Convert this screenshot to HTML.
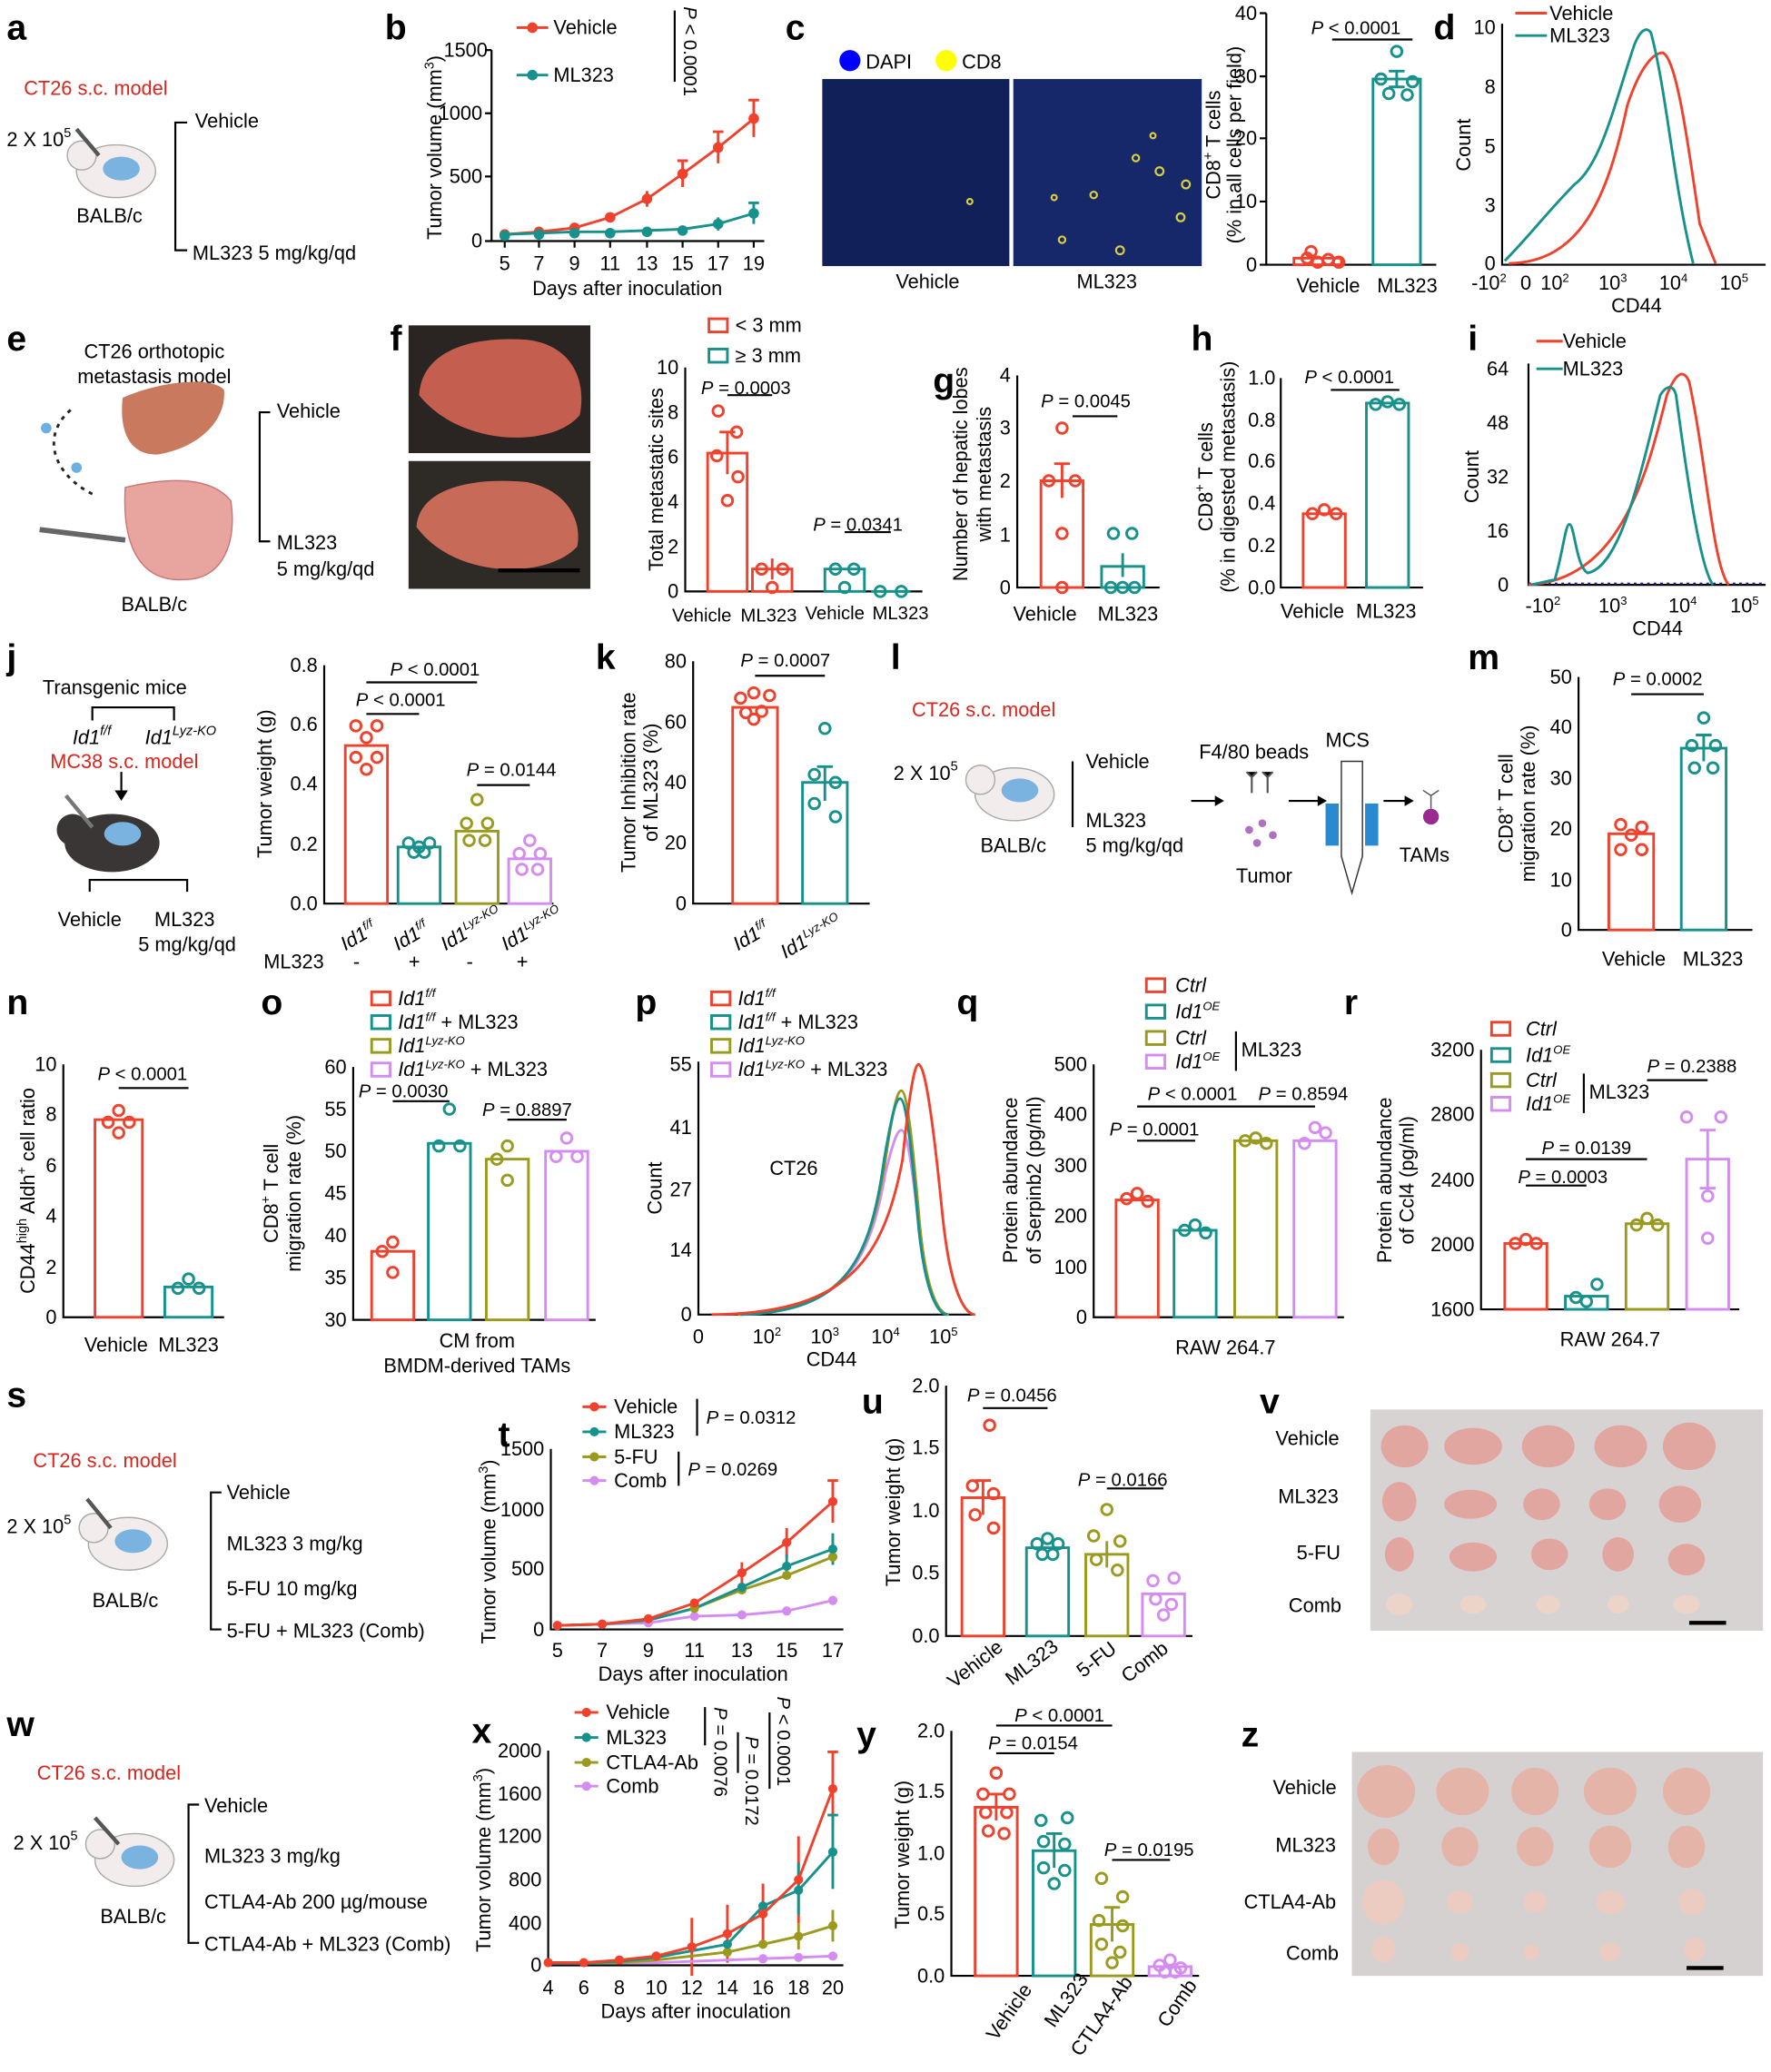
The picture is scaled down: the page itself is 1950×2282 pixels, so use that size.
<!DOCTYPE html>
<html><head><meta charset="utf-8"><style>
html,body{margin:0;padding:0;background:#fff;}
svg{display:block}
text{font-family:"Liberation Sans",Arial,sans-serif;font-size:15px;fill:#000}
.L{font-size:27px;font-weight:bold}
.s{font-size:14px}
.rd{fill:#d7261e}
.ax{stroke:#000;stroke-width:1.5;fill:none}
.R{stroke:#f0412d;stroke-width:2;fill:none}
.T{stroke:#16918c;stroke-width:2;fill:none}
.O{stroke:#9a9a1e;stroke-width:2;fill:none}
.V{stroke:#d48cf0;stroke-width:2;fill:none}
.e{text-anchor:end}.m{text-anchor:middle}
</style></head><body>
<svg width="1950" height="2282" viewBox="0 0 1344 1573" xmlns="http://www.w3.org/2000/svg">
<rect width="1344" height="1573" fill="#fff"/>
<!-- panel letters -->
<g class="L">
<text x="5" y="30" class="L">a</text><text x="292" y="30" class="L">b</text><text x="596" y="30" class="L">c</text><text x="1088" y="30" class="L">d</text>
<text x="5" y="266" class="L">e</text><text x="296" y="266" class="L">f</text><text x="708" y="298" class="L">g</text><text x="904" y="266" class="L">h</text><text x="1114" y="266" class="L">i</text>
<text x="5" y="508" class="L">j</text><text x="452" y="508" class="L">k</text><text x="676" y="508" class="L">l</text><text x="1114" y="508" class="L">m</text>
<text x="5" y="770" class="L">n</text><text x="198" y="770" class="L">o</text><text x="482" y="770" class="L">p</text><text x="726" y="770" class="L">q</text><text x="1020" y="770" class="L">r</text>
<text x="5" y="1068" class="L">s</text><text x="378" y="1098" class="L">t</text><text x="654" y="1073" class="L">u</text><text x="956" y="1073" class="L">v</text>
<text x="5" y="1318" class="L">w</text><text x="358" y="1323" class="L">x</text><text x="650" y="1326" class="L">y</text><text x="942" y="1326" class="L">z</text>
</g>

<!-- ===== a ===== -->
<text x="18" y="72" class="rd">CT26 s.c. model</text>
<text x="5" y="111">2 X 10<tspan font-size="10" dy="-7">5</tspan></text>
<g><ellipse cx="88" cy="130" rx="30" ry="20" fill="#f3ecec" stroke="#aaa"/><circle cx="62" cy="118" r="11" fill="#f3ecec" stroke="#aaa"/><ellipse cx="92" cy="128" rx="14" ry="9" fill="#7ab3e0"/><line x1="58" y1="98" x2="75" y2="118" stroke="#555" stroke-width="3"/></g>
<text x="58" y="169">BALB/c</text>
<path class="ax" d="M142,93H133V190H142"/>
<text x="148" y="97">Vehicle</text><text x="146" y="197">ML323 5 mg/kg/qd</text>

<!-- ===== b ===== -->
<path class="ax" d="M373,38V183H580"/>
<g class="ax"><path d="M368,183H373M368,134H373M368,86H373M368,38H373M383,183v5M409,183v5M436,183v5M463,183v5M491,183v5M518,183v5M545,183v5M572,183v5"/></g>
<g class="e"><text x="366" y="188">0</text><text x="366" y="139">500</text><text x="366" y="91">1000</text><text x="370" y="43">1500</text></g>
<g class="m"><text x="383" y="205">5</text><text x="409" y="205">7</text><text x="436" y="205">9</text><text x="463" y="205">11</text><text x="491" y="205">13</text><text x="518" y="205">15</text><text x="545" y="205">17</text><text x="572" y="205">19</text>
<text x="476" y="224">Days after inoculation</text></g>
<text transform="translate(335,112) rotate(-90)" class="m">Tumor volume (mm<tspan font-size="10" dy="-6">3</tspan><tspan dy="6">)</tspan></text>
<polyline class="R" points="383,178 409,176 436,173 463,165 491,151 518,132 545,112 572,90"/>
<polyline class="T" points="383,178 409,177 436,176 463,176 491,175 518,174 545,170 572,162"/>
<path class="R" d="M491,145v12M518,122v20M545,100v24M572,76v28M568,76h8M541,100h8M514,122h8"/>
<path class="T" d="M545,165v10M572,154v16M568,154h8"/>
<g fill="#f0412d"><circle cx="383" cy="178" r="4"/><circle cx="409" cy="176" r="4"/><circle cx="436" cy="173" r="4"/><circle cx="463" cy="165" r="4"/><circle cx="491" cy="151" r="4"/><circle cx="518" cy="132" r="4"/><circle cx="545" cy="112" r="4"/><circle cx="572" cy="90" r="4"/></g>
<g fill="#16918c"><circle cx="383" cy="179" r="4"/><circle cx="409" cy="178" r="4"/><circle cx="436" cy="177" r="4"/><circle cx="463" cy="177" r="4"/><circle cx="491" cy="176" r="4"/><circle cx="518" cy="175" r="4"/><circle cx="545" cy="170" r="4"/><circle cx="572" cy="162" r="4"/></g>
<path class="R" d="M392,21h24"/><circle cx="404" cy="21" r="4" fill="#f0412d"/><text x="420" y="26">Vehicle</text>
<path class="T" d="M392,57h24"/><circle cx="404" cy="57" r="4" fill="#16918c"/><text x="420" y="62">ML323</text>
<path class="ax" d="M512,8V62"/>
<text transform="translate(519,5) rotate(90)" class="s"><tspan font-style="italic">P</tspan> &lt; 0.0001</text>

<!-- ===== c ===== -->
<circle cx="645" cy="46" r="8" fill="#0000ff"/><text x="657" y="52">DAPI</text>
<circle cx="718" cy="46" r="8" fill="#ffff00"/><text x="730" y="52">CD8</text>
<rect x="624" y="60" width="142" height="142" fill="#12205a"/>
<rect x="769" y="60" width="143" height="142" fill="#16286a"/>
<g fill="none" stroke="#d8d040" stroke-width="1.5"><circle cx="862" cy="120" r="2.5"/><circle cx="880" cy="130" r="3"/><circle cx="900" cy="140" r="3"/><circle cx="850" cy="190" r="3"/><circle cx="830" cy="148" r="2.5"/><circle cx="896" cy="165" r="3"/><circle cx="800" cy="150" r="2"/><circle cx="875" cy="103" r="2"/><circle cx="806" cy="182" r="2.5"/><circle cx="736" cy="153" r="2"/></g>
<text x="704" y="219" class="m">Vehicle</text><text x="840" y="219" class="m">ML323</text>
<path class="ax" d="M961,10V201H1090"/>
<g class="ax"><path d="M956,201h5M956,153h5M956,105h5M956,58h5M956,10h5"/></g>
<g class="e"><text x="954" y="206">0</text><text x="954" y="158">10</text><text x="954" y="110">20</text><text x="954" y="63">30</text><text x="954" y="15">40</text></g>
<text transform="translate(926,110) rotate(-90)" class="m">CD8<tspan font-size="10" dy="-6">+</tspan><tspan dy="6"> T cells</tspan></text>
<text transform="translate(942,110) rotate(-90)" class="m">(% in all cells per field)</text>
<rect x="982" y="196" width="36" height="5" class="R"/><rect x="1042" y="60" width="36" height="141" class="T"/>
<path class="T" d="M1060,54v12M1054,54h12M1054,66h12"/>
<g class="R"><circle cx="992" cy="196" r="4"/><circle cx="1000" cy="199" r="4"/><circle cx="1008" cy="197" r="4"/><circle cx="1016" cy="199" r="4"/><circle cx="995" cy="191" r="4"/></g>
<g class="T"><circle cx="1060" cy="39" r="4"/><circle cx="1048" cy="60" r="4"/><circle cx="1072" cy="62" r="4"/><circle cx="1054" cy="71" r="4"/><circle cx="1068" cy="72" r="4"/></g>
<path class="ax" d="M1011,30H1072"/><text x="995" y="26" class="s"><tspan font-style="italic">P</tspan> &lt; 0.0001</text>
<text x="1008" y="222" class="m">Vehicle</text><text x="1068" y="222" class="m">ML323</text>

<!-- ===== d ===== -->
<path class="ax" d="M1140,18V201H1340"/>
<g class="e"><text x="1135" y="205">0</text><text x="1135" y="161">3</text><text x="1135" y="116">5</text><text x="1135" y="71">8</text><text x="1135" y="26">10</text></g>
<text transform="translate(1116,110) rotate(-90)" class="m">Count</text>
<g class="m"><text x="1130" y="220">-10<tspan font-size="9" dy="-6">2</tspan></text><text x="1158" y="220">0</text><text x="1180" y="220">10<tspan font-size="9" dy="-6">2</tspan></text><text x="1224" y="220">10<tspan font-size="9" dy="-6">3</tspan></text><text x="1270" y="220">10<tspan font-size="9" dy="-6">4</tspan></text><text x="1316" y="220">10<tspan font-size="9" dy="-6">5</tspan></text><text x="1242" y="237">CD44</text></g>
<path class="R" d="M1145,200C1200,199 1220,150 1235,80C1245,50 1255,40 1262,40C1272,45 1280,100 1290,170L1302,200"/>
<path class="T" d="M1142,198C1160,180 1175,160 1195,140C1215,125 1225,80 1240,35C1245,22 1250,20 1253,25C1265,70 1270,140 1285,200"/>
<path class="R" d="M1150,10h24"/><text x="1176" y="15">Vehicle</text><path class="T" d="M1150,27h24"/><text x="1176" y="32">ML323</text>

<!-- ===== e ===== -->
<text x="117" y="272" class="m">CT26 orthotopic</text><text x="117" y="291" class="m">metastasis model</text>
<path d="M93,302C120,290 160,285 170,296C172,320 150,340 120,345C100,346 90,330 93,302Z" fill="#c97a5e"/>
<circle cx="35" cy="325" r="4" fill="#6bb0e0"/><circle cx="58" cy="355" r="4" fill="#6bb0e0"/>
<path d="M70,375C40,360 30,330 55,310" fill="none" stroke="#222" stroke-width="2" stroke-dasharray="3,4"/>
<path d="M95,370C130,362 160,362 175,380C180,410 170,440 140,440C110,442 92,420 95,370Z" fill="#e8a5a0" stroke="#c77"/>
<line x1="30" y1="402" x2="95" y2="410" stroke="#666" stroke-width="4"/>
<text x="117" y="464" class="m">BALB/c</text>
<path class="ax" d="M205,313H197V411H205"/>
<text x="210" y="317">Vehicle</text><text x="210" y="417">ML323</text><text x="210" y="437">5 mg/kg/qd</text>

<!-- ===== f ===== -->
<rect x="310" y="247" width="138" height="97" fill="#2a2422"/>
<path d="M318,300C320,265 360,255 400,258C435,262 445,290 440,315C420,340 350,340 318,300Z" fill="#c45f4f"/>
<rect x="310" y="350" width="138" height="97" fill="#2e2a26"/>
<path d="M316,400C318,370 360,362 400,366C430,372 442,395 438,415C415,440 345,440 316,400Z" fill="#c86a58"/>
<line x1="378" y1="433" x2="440" y2="433" stroke="#000" stroke-width="3"/>
<rect x="538" y="242" width="14" height="10" class="R"/><text x="558" y="252">&lt; 3 mm</text>
<rect x="538" y="265" width="14" height="10" class="T"/><text x="558" y="275">≥ 3 mm</text>
<path class="ax" d="M520,279V449H700"/>
<g class="e"><text x="515" y="454">0</text><text x="515" y="420">2</text><text x="515" y="386">4</text><text x="515" y="352">6</text><text x="515" y="318">8</text><text x="515" y="284">10</text></g>
<text transform="translate(503,364) rotate(-90)" class="m">Total metastatic sites</text>
<rect x="537" y="344" width="30" height="105" class="R"/><rect x="571" y="432" width="30" height="17" class="R"/>
<rect x="626" y="432" width="30" height="17" class="T"/><path class="T" d="M661,449h30"/>
<path class="R" d="M552,328v32M546,328h12M586,424v16"/>
<g class="R"><circle cx="545" cy="312" r="4"/><circle cx="559" cy="328" r="4"/><circle cx="544" cy="346" r="4"/><circle cx="560" cy="362" r="4"/><circle cx="552" cy="380" r="4"/><circle cx="578" cy="432" r="4"/><circle cx="594" cy="432" r="4"/><circle cx="586" cy="446" r="4"/></g>
<g class="T"><circle cx="634" cy="432" r="4"/><circle cx="648" cy="432" r="4"/><circle cx="641" cy="446" r="4"/><circle cx="668" cy="449" r="4"/><circle cx="684" cy="449" r="4"/></g>
<path class="ax" d="M552,300H586M641,404H676"/>
<text x="532" y="299" class="s"><tspan font-style="italic">P</tspan> = 0.0003</text><text x="617" y="403" class="s"><tspan font-style="italic">P</tspan> = 0.0341</text>
<text x="510" y="472" class="s">Vehicle</text><text x="562" y="472" class="s">ML323</text><text x="611" y="470" class="s">Vehicle</text><text x="662" y="470" class="s">ML323</text>

<!-- ===== g ===== -->
<path class="ax" d="M772,285V446H880"/>
<g class="e"><text x="767" y="451">0</text><text x="767" y="411">1</text><text x="767" y="370">2</text><text x="767" y="330">3</text><text x="767" y="290">4</text></g>
<text transform="translate(734,360) rotate(-90)" class="m">Number of hepatic lobes</text>
<text transform="translate(752,360) rotate(-90)" class="m">with metastasis</text>
<rect x="790" y="365" width="32" height="81" class="R"/><rect x="836" y="430" width="32" height="16" class="T"/>
<path class="R" d="M806,352v26M800,352h12"/><path class="T" d="M852,420v18"/>
<g class="R"><circle cx="806" cy="325" r="4"/><circle cx="796" cy="365" r="4"/><circle cx="816" cy="365" r="4"/><circle cx="806" cy="405" r="4"/><circle cx="806" cy="446" r="4"/></g>
<g class="T"><circle cx="845" cy="405" r="4"/><circle cx="859" cy="405" r="4"/><circle cx="852" cy="446" r="4"/><circle cx="843" cy="446" r="4"/><circle cx="861" cy="446" r="4"/></g>
<path class="ax" d="M814,316H848"/><text x="790" y="309" class="s"><tspan font-style="italic">P</tspan> = 0.0045</text>
<text x="793" y="471" class="m">Vehicle</text><text x="856" y="471" class="m">ML323</text>

<!-- ===== h ===== -->
<path class="ax" d="M972,287V446H1080"/>
<g class="e"><text x="968" y="451">0.0</text><text x="968" y="419">0.2</text><text x="968" y="387">0.4</text><text x="968" y="355">0.6</text><text x="968" y="324">0.8</text><text x="968" y="292">1.0</text></g>
<text transform="translate(920,362) rotate(-90)" class="m">CD8<tspan font-size="10" dy="-6">+</tspan><tspan dy="6"> T cells</tspan></text>
<text transform="translate(937,362) rotate(-90)" class="m">(% in digested metastasis)</text>
<rect x="989" y="390" width="32" height="56" class="R"/><rect x="1037" y="306" width="32" height="140" class="T"/>
<g class="R"><circle cx="996" cy="390" r="4"/><circle cx="1005" cy="387" r="4"/><circle cx="1014" cy="390" r="4"/></g>
<g class="T"><circle cx="1044" cy="307" r="4"/><circle cx="1053" cy="305" r="4"/><circle cx="1062" cy="307" r="4"/></g>
<path class="ax" d="M1010,296H1062"/><text x="990" y="291" class="s"><tspan font-style="italic">P</tspan> &lt; 0.0001</text>
<text x="996" y="469" class="m">Vehicle</text><text x="1052" y="469" class="m">ML323</text>

<!-- ===== i ===== -->
<path class="ax" d="M1160,276V444H1340"/>
<g class="e"><text x="1145" y="449">0</text><text x="1145" y="408">16</text><text x="1145" y="367">32</text><text x="1145" y="326">48</text><text x="1145" y="285">64</text></g>
<text transform="translate(1122,362) rotate(-90)" class="m">Count</text>
<g class="m"><text x="1171" y="465">-10<tspan font-size="9" dy="-6">2</tspan></text><text x="1224" y="465">10<tspan font-size="9" dy="-6">3</tspan></text><text x="1277" y="465">10<tspan font-size="9" dy="-6">4</tspan></text><text x="1324" y="465">10<tspan font-size="9" dy="-6">5</tspan></text><text x="1258" y="482">CD44</text></g>
<path d="M1160,443H1340" stroke="#2020a0" stroke-width="1.5" stroke-dasharray="2,3"/>
<path class="R" d="M1160,444C1230,440 1250,360 1265,300C1272,282 1278,280 1282,290C1295,350 1300,430 1312,444"/>
<path class="T" d="M1162,444L1180,440C1186,420 1188,398 1191,398C1195,398 1196,430 1205,435C1230,430 1245,360 1260,300C1265,292 1270,292 1272,300C1280,360 1290,430 1300,444"/>
<path class="R" d="M1166,259h20"/><text x="1186" y="264">Vehicle</text><path class="T" d="M1166,280h20"/><text x="1186" y="285">ML323</text>

<!-- ===== j ===== -->
<text x="87" y="527" class="m">Transgenic mice</text>
<path class="ax" d="M70,547V537H132V547"/>
<text x="55" y="565" font-style="italic">Id1<tspan font-size="10" dy="-7">f/f</tspan></text>
<text x="110" y="565" font-style="italic">Id1<tspan font-size="10" dy="-7">Lyz-KO</tspan></text>
<text x="38" y="583" class="rd">MC38 s.c. model</text>
<path class="ax" d="M92,586V605"/><path d="M87,600l5,8 5,-8z"/>
<ellipse cx="85" cy="640" rx="36" ry="22" fill="#3a3636"/><circle cx="55" cy="630" r="12" fill="#3a3636"/><ellipse cx="93" cy="633" rx="14" ry="9" fill="#7ab3e0"/>
<line x1="50" y1="604" x2="70" y2="628" stroke="#777" stroke-width="3"/>
<path class="ax" d="M68,677V668H142V677"/>
<text x="68" y="703" class="m">Vehicle</text><text x="140" y="703" class="m">ML323</text><text x="142" y="722" class="m">5 mg/kg/qd</text>
<path class="ax" d="M246,505V686H420"/>
<g class="e"><text x="241" y="691">0.0</text><text x="241" y="646">0.2</text><text x="241" y="600">0.4</text><text x="241" y="555">0.6</text><text x="241" y="510">0.8</text></g>
<text transform="translate(206,595) rotate(-90)" class="m">Tumor weight (g)</text>
<rect x="262" y="566" width="32" height="120" class="R"/><rect x="302" y="643" width="32" height="43" class="T"/><rect x="346" y="631" width="32" height="55" class="O"/><rect x="386" y="652" width="32" height="34" class="V"/>
<g class="R"><circle cx="270" cy="551" r="4"/><circle cx="286" cy="551" r="4"/><circle cx="278" cy="560" r="4"/><circle cx="270" cy="575" r="4"/><circle cx="286" cy="575" r="4"/><circle cx="278" cy="584" r="4"/></g>
<g class="T"><circle cx="310" cy="640" r="4"/><circle cx="318" cy="643" r="4"/><circle cx="326" cy="640" r="4"/><circle cx="314" cy="647" r="4"/><circle cx="322" cy="647" r="4"/></g>
<g class="O"><circle cx="362" cy="607" r="4"/><circle cx="354" cy="625" r="4"/><circle cx="370" cy="625" r="4"/><circle cx="356" cy="638" r="4"/><circle cx="368" cy="638" r="4"/></g>
<g class="V"><circle cx="402" cy="638" r="4"/><circle cx="394" cy="648" r="4"/><circle cx="410" cy="648" r="4"/><circle cx="396" cy="660" r="4"/><circle cx="408" cy="660" r="4"/></g>
<path class="ax" d="M278,518H362M278,542H318M362,596H402"/>
<text x="296" y="513" class="s"><tspan font-style="italic">P</tspan> &lt; 0.0001</text><text x="270" y="536" class="s"><tspan font-style="italic">P</tspan> &lt; 0.0001</text><text x="354" y="589" class="s"><tspan font-style="italic">P</tspan> = 0.0144</text>
<g font-style="italic" class="s"><text transform="translate(262,722) rotate(-30)">Id1<tspan font-size="9" dy="-6">f/f</tspan></text><text transform="translate(302,722) rotate(-30)">Id1<tspan font-size="9" dy="-6">f/f</tspan></text><text transform="translate(338,722) rotate(-30)">Id1<tspan font-size="9" dy="-6">Lyz-KO</tspan></text><text transform="translate(384,722) rotate(-30)">Id1<tspan font-size="9" dy="-6">Lyz-KO</tspan></text></g>
<text x="200" y="735">ML323</text><text x="268" y="735">-</text><text x="310" y="735">+</text><text x="354" y="735">-</text><text x="392" y="735">+</text>

<!-- ===== k ===== -->
<path class="ax" d="M526,502V686H660"/>
<g class="e"><text x="521" y="691">0</text><text x="521" y="645">20</text><text x="521" y="599">40</text><text x="521" y="553">60</text><text x="521" y="507">80</text></g>
<text transform="translate(482,594) rotate(-90)" class="m">Tumor Inhibition rate</text>
<text transform="translate(499,594) rotate(-90)" class="m">of ML323 (%)</text>
<rect x="556" y="537" width="34" height="149" class="R"/><rect x="609" y="594" width="34" height="92" class="T"/>
<path class="T" d="M626,582v26M620,582h12"/>
<g class="R"><circle cx="562" cy="530" r="4"/><circle cx="572" cy="526" r="4"/><circle cx="584" cy="528" r="4"/><circle cx="566" cy="541" r="4"/><circle cx="578" cy="540" r="4"/><circle cx="572" cy="546" r="4"/></g>
<g class="T"><circle cx="626" cy="553" r="4"/><circle cx="618" cy="588" r="4"/><circle cx="634" cy="594" r="4"/><circle cx="618" cy="610" r="4"/><circle cx="634" cy="620" r="4"/></g>
<path class="ax" d="M573,513H626"/><text x="562" y="506" class="s"><tspan font-style="italic">P</tspan> = 0.0007</text>
<g font-style="italic" class="s"><text transform="translate(560,722) rotate(-30)">Id1<tspan font-size="9" dy="-6">f/f</tspan></text><text transform="translate(596,728) rotate(-30)">Id1<tspan font-size="9" dy="-6">Lyz-KO</tspan></text></g>

<!-- ===== l ===== -->
<text x="692" y="544" class="rd">CT26 s.c. model</text>
<text x="678" y="592">2 X 10<tspan font-size="10" dy="-7">5</tspan></text>
<ellipse cx="770" cy="603" rx="30" ry="20" fill="#f3ecec" stroke="#aaa"/><circle cx="744" cy="592" r="11" fill="#f3ecec" stroke="#aaa"/><ellipse cx="774" cy="600" rx="14" ry="9" fill="#7ab3e0"/>
<text x="744" y="647">BALB/c</text>
<path class="ax" d="M814,578V628"/>
<text x="824" y="583">Vehicle</text><text x="824" y="628">ML323</text><text x="824" y="647">5 mg/kg/qd</text>
<path class="ax" d="M904,608H925"/><path d="M922,604l7,4-7,4z"/>
<text x="910" y="576">F4/80 beads</text><text x="1006" y="567">MCS</text>
<g stroke="#555" stroke-width="1.5"><path d="M950,590v12M962,590v12M946,586l4,4 4,-4M958,586l4,4 4,-4"/></g>
<g fill="#b070c0"><circle cx="948" cy="630" r="3"/><circle cx="958" cy="625" r="3"/><circle cx="966" cy="634" r="3"/><circle cx="954" cy="640" r="3"/></g>
<text x="938" y="670">Tumor</text>
<path class="ax" d="M978,608H1002"/><path d="M1000,604l7,4-7,4z"/>
<rect x="1006" y="610" width="10" height="32" fill="#2a8ad0"/><rect x="1036" y="610" width="10" height="32" fill="#2a8ad0"/>
<path d="M1018,578V650L1026,678L1034,650V578Z" fill="#fff" stroke="#333"/>
<path class="ax" d="M1050,608H1068"/><path d="M1066,604l7,4-7,4z"/>
<circle cx="1086" cy="620" r="6" fill="#9a2a90"/><path d="M1086,614V604M1080,600l6,4 6,-4" stroke="#555" fill="none"/>
<text x="1062" y="654">TAMs</text>

<!-- ===== m ===== -->
<path class="ax" d="M1198,514V706H1330"/>
<g class="e"><text x="1193" y="711">0</text><text x="1193" y="673">10</text><text x="1193" y="634">20</text><text x="1193" y="596">30</text><text x="1193" y="557">40</text><text x="1193" y="519">50</text></g>
<text transform="translate(1148,610) rotate(-90)" class="m">CD8<tspan font-size="10" dy="-6">+</tspan><tspan dy="6"> T cell</tspan></text>
<text transform="translate(1165,610) rotate(-90)" class="m">migration rate (%)</text>
<rect x="1221" y="633" width="34" height="73" class="R"/><rect x="1276" y="568" width="34" height="138" class="T"/>
<path class="T" d="M1293,558v20M1287,558h12"/>
<g class="R"><circle cx="1230" cy="626" r="4"/><circle cx="1246" cy="628" r="4"/><circle cx="1238" cy="634" r="4"/><circle cx="1230" cy="645" r="4"/><circle cx="1246" cy="645" r="4"/></g>
<g class="T"><circle cx="1293" cy="545" r="4"/><circle cx="1284" cy="566" r="4"/><circle cx="1302" cy="566" r="4"/><circle cx="1286" cy="583" r="4"/><circle cx="1300" cy="583" r="4"/></g>
<path class="ax" d="M1238,527H1293"/><text x="1224" y="520" class="s"><tspan font-style="italic">P</tspan> = 0.0002</text>
<text x="1240" y="733" class="m">Vehicle</text><text x="1300" y="733" class="m">ML323</text>

<!-- ===== n ===== -->
<path class="ax" d="M48,808V1000H170"/>
<g class="e"><text x="43" y="1005">0</text><text x="43" y="967">2</text><text x="43" y="928">4</text><text x="43" y="890">6</text><text x="43" y="851">8</text><text x="43" y="813">10</text></g>
<text transform="translate(26,904) rotate(-90)" class="m">CD44<tspan font-size="10" dy="-6">high</tspan><tspan dy="6"> Aldh</tspan><tspan font-size="10" dy="-6">+</tspan><tspan dy="6"> cell ratio</tspan></text>
<rect x="72" y="850" width="36" height="150" class="R"/><rect x="125" y="977" width="36" height="23" class="T"/>
<g class="R"><circle cx="82" cy="852" r="4"/><circle cx="98" cy="852" r="4"/><circle cx="90" cy="843" r="4"/><circle cx="90" cy="860" r="4"/></g>
<g class="T"><circle cx="135" cy="978" r="4"/><circle cx="151" cy="978" r="4"/><circle cx="143" cy="971" r="4"/></g>
<path class="ax" d="M90,826H143"/><text x="74" y="820" class="s"><tspan font-style="italic">P</tspan> &lt; 0.0001</text>
<text x="88" y="1026" class="m">Vehicle</text><text x="143" y="1026" class="m">ML323</text>

<!-- ===== o ===== -->
<g font-style="italic" class="s">
<rect x="282" y="753" width="14" height="10" class="R"/><text x="302" y="763">Id1<tspan font-size="9" dy="-6">f/f</tspan></text>
<rect x="282" y="771" width="14" height="10" class="T"/><text x="302" y="781">Id1<tspan font-size="9" dy="-6">f/f</tspan><tspan font-style="normal" dy="6"> + ML323</tspan></text>
<rect x="282" y="789" width="14" height="10" class="O"/><text x="302" y="799">Id1<tspan font-size="9" dy="-6">Lyz-KO</tspan></text>
<rect x="282" y="807" width="14" height="10" class="V"/><text x="302" y="817">Id1<tspan font-size="9" dy="-6">Lyz-KO</tspan><tspan font-style="normal" dy="6"> + ML323</tspan></text></g>
<path class="ax" d="M268,810V1002H452"/>
<g class="e"><text x="263" y="1007">30</text><text x="263" y="975">35</text><text x="263" y="943">40</text><text x="263" y="911">45</text><text x="263" y="879">50</text><text x="263" y="847">55</text><text x="263" y="815">60</text></g>
<text transform="translate(211,906) rotate(-90)" class="m">CD8<tspan font-size="10" dy="-6">+</tspan><tspan dy="6"> T cell</tspan></text>
<text transform="translate(228,906) rotate(-90)" class="m">migration rate (%)</text>
<rect x="282" y="950" width="32" height="52" class="R"/><rect x="325" y="868" width="32" height="134" class="T"/><rect x="369" y="880" width="32" height="122" class="O"/><rect x="414" y="874" width="32" height="128" class="V"/>
<g class="R"><circle cx="298" cy="943" r="4"/><circle cx="290" cy="950" r="4"/><circle cx="298" cy="966" r="4"/></g>
<g class="T"><circle cx="341" cy="842" r="4"/><circle cx="333" cy="870" r="4"/><circle cx="349" cy="870" r="4"/></g>
<g class="O"><circle cx="385" cy="870" r="4"/><circle cx="377" cy="880" r="4"/><circle cx="385" cy="896" r="4"/></g>
<g class="V"><circle cx="430" cy="864" r="4"/><circle cx="422" cy="878" r="4"/><circle cx="438" cy="878" r="4"/></g>
<path class="ax" d="M298,836H341M385,850H430"/>
<text x="272" y="833" class="s"><tspan font-style="italic">P</tspan> = 0.0030</text><text x="366" y="847" class="s"><tspan font-style="italic">P</tspan> = 0.8897</text>
<text x="362" y="1023" class="m">CM from</text><text x="362" y="1042" class="m">BMDM-derived TAMs</text>

<!-- ===== p ===== -->
<g font-style="italic" class="s">
<rect x="540" y="753" width="14" height="10" class="R"/><text x="560" y="763">Id1<tspan font-size="9" dy="-6">f/f</tspan></text>
<rect x="540" y="771" width="14" height="10" class="T"/><text x="560" y="781">Id1<tspan font-size="9" dy="-6">f/f</tspan><tspan font-style="normal" dy="6"> + ML323</tspan></text>
<rect x="540" y="789" width="14" height="10" class="O"/><text x="560" y="799">Id1<tspan font-size="9" dy="-6">Lyz-KO</tspan></text>
<rect x="540" y="807" width="14" height="10" class="V"/><text x="560" y="817">Id1<tspan font-size="9" dy="-6">Lyz-KO</tspan><tspan font-style="normal" dy="6"> + ML323</tspan></text></g>
<path class="ax" d="M530,806V998H740"/>
<g class="e"><text x="525" y="1003">0</text><text x="525" y="954">14</text><text x="525" y="908">27</text><text x="525" y="861">41</text><text x="525" y="813">55</text></g>
<text transform="translate(502,902) rotate(-90)" class="m">Count</text>
<g class="m"><text x="530" y="1020">0</text><text x="582" y="1020">10<tspan font-size="9" dy="-6">2</tspan></text><text x="626" y="1020">10<tspan font-size="9" dy="-6">3</tspan></text><text x="672" y="1020">10<tspan font-size="9" dy="-6">4</tspan></text><text x="716" y="1020">10<tspan font-size="9" dy="-6">5</tspan></text><text x="631" y="1037">CD44</text></g>
<text x="584" y="892">CT26</text>
<path class="V" d="M560,998C640,996 660,960 672,890C678,866 681,858 684,858C688,858 692,880 698,940C704,990 715,998 720,998"/>
<path class="O" d="M560,998C640,996 660,960 672,880C678,840 681,828 684,828C688,828 692,860 698,930C704,990 715,998 720,998"/>
<path class="T" d="M562,998C640,996 660,960 671,880C677,845 680,834 683,834C687,834 691,862 697,930C703,990 714,998 719,998"/>
<path class="R" d="M540,998C640,997 670,960 685,880C690,830 694,808 697,808C702,808 708,850 715,920C722,990 735,998 740,998"/>

<!-- ===== q ===== -->
<g font-style="italic" class="s">
<rect x="870" y="743" width="14" height="10" class="R"/><text x="892" y="753">Ctrl</text>
<rect x="870" y="763" width="14" height="10" class="T"/><text x="892" y="773">Id1<tspan font-size="9" dy="-6">OE</tspan></text>
<rect x="870" y="783" width="14" height="10" class="O"/><text x="892" y="793">Ctrl</text>
<rect x="870" y="801" width="14" height="10" class="V"/><text x="892" y="811">Id1<tspan font-size="9" dy="-6">OE</tspan></text></g>
<path class="ax" d="M938,783V813"/><text x="942" y="802">ML323</text>
<path class="ax" d="M830,808V1000H1020"/>
<g class="e"><text x="825" y="1005">0</text><text x="825" y="967">100</text><text x="825" y="928">200</text><text x="825" y="890">300</text><text x="825" y="851">400</text><text x="825" y="813">500</text></g>
<text transform="translate(772,896) rotate(-90)" class="m">Protein abundance</text>
<text transform="translate(790,896) rotate(-90)" class="m">of Serpinb2 (pg/ml)</text>
<rect x="847" y="911" width="32" height="89" class="R"/><rect x="891" y="934" width="32" height="66" class="T"/><rect x="937" y="866" width="32" height="134" class="O"/><rect x="982" y="866" width="32" height="134" class="V"/>
<g class="R"><circle cx="855" cy="910" r="4"/><circle cx="863" cy="906" r="4"/><circle cx="871" cy="912" r="4"/></g>
<g class="T"><circle cx="899" cy="934" r="4"/><circle cx="907" cy="930" r="4"/><circle cx="915" cy="936" r="4"/></g>
<g class="O"><circle cx="945" cy="866" r="4"/><circle cx="953" cy="864" r="4"/><circle cx="961" cy="868" r="4"/></g>
<g class="V"><circle cx="990" cy="868" r="4"/><circle cx="998" cy="856" r="4"/><circle cx="1006" cy="860" r="4"/></g>
<path class="ax" d="M863,866H907M863,840H953M953,840H998"/>
<text x="842" y="862" class="s"><tspan font-style="italic">P</tspan> = 0.0001</text><text x="871" y="835" class="s"><tspan font-style="italic">P</tspan> &lt; 0.0001</text><text x="955" y="835" class="s"><tspan font-style="italic">P</tspan> = 0.8594</text>
<text x="930" y="1028" class="m">RAW 264.7</text>

<!-- ===== r ===== -->
<g font-style="italic" class="s">
<rect x="1132" y="776" width="14" height="10" class="R"/><text x="1158" y="786">Ctrl</text>
<rect x="1132" y="796" width="14" height="10" class="T"/><text x="1158" y="806">Id1<tspan font-size="9" dy="-6">OE</tspan></text>
<rect x="1132" y="815" width="14" height="10" class="O"/><text x="1158" y="825">Ctrl</text>
<rect x="1132" y="833" width="14" height="10" class="V"/><text x="1158" y="843">Id1<tspan font-size="9" dy="-6">OE</tspan></text></g>
<path class="ax" d="M1202,815V845"/><text x="1206" y="834">ML323</text>
<path class="ax" d="M1124,797V994H1320"/>
<g class="e"><text x="1119" y="999">1600</text><text x="1119" y="950">2000</text><text x="1119" y="901">2400</text><text x="1119" y="851">2800</text><text x="1119" y="802">3200</text></g>
<text transform="translate(1056,896) rotate(-90)" class="m">Protein abundance</text>
<text transform="translate(1073,896) rotate(-90)" class="m">of Ccl4 (pg/ml)</text>
<rect x="1142" y="944" width="32" height="50" class="R"/><rect x="1188" y="984" width="32" height="10" class="T"/><rect x="1234" y="929" width="32" height="65" class="O"/><rect x="1280" y="880" width="32" height="114" class="V"/>
<path class="V" d="M1296,858v44M1290,858h12M1290,902h12"/>
<g class="R"><circle cx="1150" cy="944" r="4"/><circle cx="1158" cy="941" r="4"/><circle cx="1166" cy="944" r="4"/></g>
<g class="T"><circle cx="1196" cy="985" r="4"/><circle cx="1204" cy="988" r="4"/><circle cx="1212" cy="975" r="4"/></g>
<g class="O"><circle cx="1242" cy="930" r="4"/><circle cx="1250" cy="925" r="4"/><circle cx="1258" cy="930" r="4"/></g>
<g class="V"><circle cx="1280" cy="848" r="4"/><circle cx="1306" cy="848" r="4"/><circle cx="1296" cy="908" r="4"/><circle cx="1296" cy="940" r="4"/></g>
<path class="ax" d="M1250,820H1296M1158,880H1250M1158,900H1204"/>
<text x="1250" y="814" class="s"><tspan font-style="italic">P</tspan> = 0.2388</text><text x="1170" y="876" class="s"><tspan font-style="italic">P</tspan> = 0.0139</text><text x="1152" y="898" class="s"><tspan font-style="italic">P</tspan> = 0.0003</text>
<text x="1222" y="1022" class="m">RAW 264.7</text>

<!-- ===== s ===== -->
<text x="25" y="1114" class="rd">CT26 s.c. model</text>
<text x="5" y="1164">2 X 10<tspan font-size="10" dy="-7">5</tspan></text>
<ellipse cx="97" cy="1172" rx="30" ry="20" fill="#f3ecec" stroke="#aaa"/><circle cx="71" cy="1160" r="11" fill="#f3ecec" stroke="#aaa"/><ellipse cx="101" cy="1170" rx="14" ry="9" fill="#7ab3e0"/><line x1="66" y1="1138" x2="84" y2="1160" stroke="#555" stroke-width="3"/>
<text x="70" y="1220">BALB/c</text>
<path class="ax" d="M168,1133H160V1237H168"/>
<text x="172" y="1138">Vehicle</text><text x="172" y="1177">ML323 3 mg/kg</text><text x="172" y="1211">5-FU 10 mg/kg</text><text x="172" y="1243">5-FU + ML323 (Comb)</text>

<!-- ===== t ===== -->
<path class="ax" d="M418,1100V1237H640"/>
<g class="e"><text x="413" y="1242">0</text><text x="413" y="1196">500</text><text x="413" y="1151">1000</text><text x="413" y="1105">1500</text></g>
<text transform="translate(376,1178) rotate(-90)" class="m">Tumor volume (mm<tspan font-size="10" dy="-6">3</tspan><tspan dy="6">)</tspan></text>
<g class="m"><text x="423" y="1258">5</text><text x="457" y="1258">7</text><text x="492" y="1258">9</text><text x="527" y="1258">11</text><text x="563" y="1258">13</text><text x="597" y="1258">15</text><text x="632" y="1258">17</text><text x="526" y="1276">Days after inoculation</text></g>
<polyline class="V" points="423,1234 457,1233 492,1232 527,1227 563,1226 597,1223 632,1215"/>
<polyline class="O" points="423,1234 457,1233 492,1230 527,1221 563,1207 597,1196 632,1182"/>
<polyline class="T" points="423,1234 457,1233 492,1230 527,1221 563,1205 597,1189 632,1176"/>
<polyline class="R" points="423,1234 457,1233 492,1229 527,1217 563,1194 597,1171 632,1140"/>
<path class="R" d="M563,1186v16M597,1160v22M632,1124v32M628,1124h8"/>
<path class="T" d="M632,1164v24M597,1180v18"/>
<g fill="#d48cf0"><circle cx="423" cy="1234" r="3.5"/><circle cx="457" cy="1233" r="3.5"/><circle cx="492" cy="1232" r="3.5"/><circle cx="527" cy="1227" r="3.5"/><circle cx="563" cy="1226" r="3.5"/><circle cx="597" cy="1223" r="3.5"/><circle cx="632" cy="1215" r="3.5"/></g>
<g fill="#9a9a1e"><circle cx="527" cy="1221" r="3.5"/><circle cx="563" cy="1207" r="3.5"/><circle cx="597" cy="1196" r="3.5"/><circle cx="632" cy="1182" r="3.5"/></g>
<g fill="#16918c"><circle cx="563" cy="1205" r="3.5"/><circle cx="597" cy="1189" r="3.5"/><circle cx="632" cy="1176" r="3.5"/></g>
<g fill="#f0412d"><circle cx="423" cy="1234" r="3.5"/><circle cx="457" cy="1233" r="3.5"/><circle cx="492" cy="1229" r="3.5"/><circle cx="527" cy="1217" r="3.5"/><circle cx="563" cy="1194" r="3.5"/><circle cx="597" cy="1171" r="3.5"/><circle cx="632" cy="1140" r="3.5"/></g>
<path class="R" d="M442,1068h18"/><circle cx="451" cy="1068" r="3.5" fill="#f0412d"/><text x="466" y="1073">Vehicle</text>
<path class="T" d="M442,1087h18"/><circle cx="451" cy="1087" r="3.5" fill="#16918c"/><text x="466" y="1092">ML323</text>
<path class="O" d="M442,1106h18"/><circle cx="451" cy="1106" r="3.5" fill="#9a9a1e"/><text x="466" y="1111">5-FU</text>
<path class="V" d="M442,1124h18"/><circle cx="451" cy="1124" r="3.5" fill="#d48cf0"/><text x="466" y="1129">Comb</text>
<path class="ax" d="M529,1062V1090M515,1102V1128"/>
<text x="536" y="1081" class="s"><tspan font-style="italic">P</tspan> = 0.0312</text><text x="522" y="1120" class="s"><tspan font-style="italic">P</tspan> = 0.0269</text>

<!-- ===== u ===== -->
<path class="ax" d="M718,1052V1242H905"/>
<g class="e"><text x="713" y="1247">0.0</text><text x="713" y="1199">0.5</text><text x="713" y="1152">1.0</text><text x="713" y="1104">1.5</text><text x="713" y="1057">2.0</text></g>
<text transform="translate(683,1148) rotate(-90)" class="m">Tumor weight (g)</text>
<rect x="730" y="1137" width="32" height="105" class="R"/><rect x="779" y="1175" width="32" height="67" class="T"/><rect x="824" y="1180" width="32" height="62" class="O"/><rect x="867" y="1210" width="32" height="32" class="V"/>
<path class="R" d="M746,1124v26M740,1124h12"/><path class="O" d="M840,1170v20"/>
<g class="R"><circle cx="751" cy="1082" r="4"/><circle cx="738" cy="1128" r="4"/><circle cx="754" cy="1134" r="4"/><circle cx="740" cy="1150" r="4"/><circle cx="754" cy="1160" r="4"/></g>
<g class="T"><circle cx="787" cy="1172" r="4"/><circle cx="795" cy="1168" r="4"/><circle cx="803" cy="1172" r="4"/><circle cx="791" cy="1180" r="4"/><circle cx="799" cy="1180" r="4"/></g>
<g class="O"><circle cx="840" cy="1146" r="4"/><circle cx="830" cy="1166" r="4"/><circle cx="850" cy="1170" r="4"/><circle cx="832" cy="1184" r="4"/><circle cx="848" cy="1192" r="4"/></g>
<g class="V"><circle cx="875" cy="1200" r="4"/><circle cx="891" cy="1198" r="4"/><circle cx="877" cy="1214" r="4"/><circle cx="889" cy="1218" r="4"/><circle cx="883" cy="1226" r="4"/></g>
<path class="ax" d="M746,1069H795M840,1130H883"/>
<text x="734" y="1064" class="s"><tspan font-style="italic">P</tspan> = 0.0456</text><text x="818" y="1128" class="s"><tspan font-style="italic">P</tspan> = 0.0166</text>
<g class="s"><text transform="translate(724,1282) rotate(-38)">Vehicle</text><text transform="translate(768,1280) rotate(-38)">ML323</text><text transform="translate(822,1274) rotate(-38)">5-FU</text><text transform="translate(856,1278) rotate(-38)">Comb</text></g>

<!-- ===== v ===== -->
<rect x="1040" y="1070" width="298" height="168" fill="#d8d3d3"/>
<g fill="#e2a6a0"><ellipse cx="1066" cy="1098" rx="18" ry="16"/><ellipse cx="1118" cy="1098" rx="22" ry="14"/><ellipse cx="1175" cy="1098" rx="20" ry="16"/><ellipse cx="1230" cy="1098" rx="20" ry="16"/><ellipse cx="1282" cy="1098" rx="20" ry="18"/>
<ellipse cx="1062" cy="1140" rx="13" ry="15"/><ellipse cx="1116" cy="1142" rx="20" ry="11"/><ellipse cx="1170" cy="1142" rx="14" ry="12"/><ellipse cx="1220" cy="1142" rx="14" ry="12"/><ellipse cx="1275" cy="1142" rx="16" ry="14"/>
<ellipse cx="1062" cy="1180" rx="11" ry="13"/><ellipse cx="1118" cy="1182" rx="18" ry="11"/><ellipse cx="1176" cy="1180" rx="14" ry="12"/><ellipse cx="1228" cy="1180" rx="12" ry="13"/><ellipse cx="1280" cy="1184" rx="14" ry="12"/></g>
<g fill="#ecd4c8"><ellipse cx="1062" cy="1218" rx="10" ry="8"/><ellipse cx="1118" cy="1218" rx="10" ry="7"/><ellipse cx="1175" cy="1218" rx="9" ry="7"/><ellipse cx="1228" cy="1218" rx="8" ry="7"/><ellipse cx="1280" cy="1218" rx="10" ry="7"/></g>
<line x1="1282" y1="1232" x2="1310" y2="1232" stroke="#000" stroke-width="3"/>
<text x="968" y="1097">Vehicle</text><text x="970" y="1141">ML323</text><text x="984" y="1184">5-FU</text><text x="978" y="1224">Comb</text>

<!-- ===== w ===== -->
<text x="28" y="1351" class="rd">CT26 s.c. model</text>
<text x="10" y="1404">2 X 10<tspan font-size="10" dy="-7">5</tspan></text>
<ellipse cx="102" cy="1412" rx="30" ry="20" fill="#f3ecec" stroke="#aaa"/><circle cx="76" cy="1400" r="11" fill="#f3ecec" stroke="#aaa"/><ellipse cx="106" cy="1410" rx="14" ry="9" fill="#7ab3e0"/><line x1="72" y1="1380" x2="90" y2="1400" stroke="#555" stroke-width="3"/>
<text x="76" y="1460">BALB/c</text>
<path class="ax" d="M151,1370H143V1475H151"/>
<text x="155" y="1376">Vehicle</text><text x="155" y="1414">ML323 3 mg/kg</text><text x="155" y="1449">CTLA4-Ab 200 µg/mouse</text><text x="155" y="1481">CTLA4-Ab + ML323 (Comb)</text>

<!-- ===== x ===== -->
<path class="ax" d="M416,1329V1492H640"/>
<g class="e"><text x="411" y="1497">0</text><text x="411" y="1465">400</text><text x="411" y="1432">800</text><text x="411" y="1399">1200</text><text x="411" y="1367">1600</text><text x="411" y="1334">2000</text></g>
<text transform="translate(372,1412) rotate(-90)" class="m">Tumor volume (mm<tspan font-size="10" dy="-6">3</tspan><tspan dy="6">)</tspan></text>
<g class="m"><text x="416" y="1514">4</text><text x="443" y="1514">6</text><text x="470" y="1514">8</text><text x="498" y="1514">10</text><text x="525" y="1514">12</text><text x="552" y="1514">14</text><text x="579" y="1514">16</text><text x="606" y="1514">18</text><text x="632" y="1514">20</text><text x="528" y="1532">Days after inoculation</text></g>
<path class="R" d="M525,1456v44M552,1446v44M579,1430v46M606,1394v66M632,1330v56M628,1330h8"/>
<path class="T" d="M632,1378v56M606,1414v40M628,1378h8"/>
<path class="O" d="M632,1450v24M606,1460v20"/>
<polyline class="V" points="416,1490 443,1490 470,1490 498,1490 525,1489 552,1488 579,1487 606,1486 632,1485"/>
<polyline class="O" points="416,1490 443,1490 470,1490 498,1488 525,1485 552,1482 579,1476 606,1470 632,1462"/>
<polyline class="T" points="416,1490 443,1490 470,1489 498,1486 525,1481 552,1476 579,1447 606,1435 632,1406"/>
<polyline class="R" points="416,1490 443,1490 470,1488 498,1485 525,1478 552,1468 579,1453 606,1427 632,1358"/>
<g fill="#d48cf0"><circle cx="579" cy="1487" r="3.5"/><circle cx="606" cy="1486" r="3.5"/><circle cx="632" cy="1485" r="3.5"/></g>
<g fill="#9a9a1e"><circle cx="552" cy="1482" r="3.5"/><circle cx="579" cy="1476" r="3.5"/><circle cx="606" cy="1470" r="3.5"/><circle cx="632" cy="1462" r="3.5"/></g>
<g fill="#16918c"><circle cx="552" cy="1476" r="3.5"/><circle cx="579" cy="1447" r="3.5"/><circle cx="606" cy="1435" r="3.5"/><circle cx="632" cy="1406" r="3.5"/></g>
<g fill="#f0412d"><circle cx="416" cy="1490" r="3.5"/><circle cx="443" cy="1490" r="3.5"/><circle cx="470" cy="1488" r="3.5"/><circle cx="498" cy="1485" r="3.5"/><circle cx="525" cy="1478" r="3.5"/><circle cx="552" cy="1468" r="3.5"/><circle cx="579" cy="1453" r="3.5"/><circle cx="606" cy="1427" r="3.5"/><circle cx="632" cy="1358" r="3.5"/></g>
<path class="R" d="M436,1300h18"/><circle cx="445" cy="1300" r="3.5" fill="#f0412d"/><text x="460" y="1305">Vehicle</text>
<path class="T" d="M436,1319h18"/><circle cx="445" cy="1319" r="3.5" fill="#16918c"/><text x="460" y="1324">ML323</text>
<path class="O" d="M436,1338h18"/><circle cx="445" cy="1338" r="3.5" fill="#9a9a1e"/><text x="460" y="1343">CTLA4-Ab</text>
<path class="V" d="M436,1356h18"/><circle cx="445" cy="1356" r="3.5" fill="#d48cf0"/><text x="460" y="1361">Comb</text>
<path class="ax" d="M535,1296V1325M560,1315V1346M584,1300V1358"/>
<text transform="translate(542,1296) rotate(90)" class="s"><tspan font-style="italic">P</tspan> = 0.0076</text>
<text transform="translate(566,1318) rotate(90)" class="s"><tspan font-style="italic">P</tspan> = 0.0172</text>
<text transform="translate(590,1288) rotate(90)" class="s"><tspan font-style="italic">P</tspan> &lt; 0.0001</text>

<!-- ===== y ===== -->
<path class="ax" d="M722,1314V1500H910"/>
<g class="e"><text x="717" y="1505">0.0</text><text x="717" y="1458">0.5</text><text x="717" y="1412">1.0</text><text x="717" y="1365">1.5</text><text x="717" y="1319">2.0</text></g>
<text transform="translate(690,1408) rotate(-90)" class="m">Tumor weight (g)</text>
<rect x="740" y="1372" width="32" height="128" class="R"/><rect x="784" y="1405" width="32" height="95" class="T"/><rect x="828" y="1461" width="32" height="39" class="O"/><rect x="872" y="1493" width="32" height="7" class="V"/>
<path class="R" d="M756,1362v20M750,1362h12"/><path class="T" d="M800,1392v26M794,1392h12"/><path class="O" d="M844,1448v26M838,1448h12"/>
<g class="R"><circle cx="756" cy="1346" r="4"/><circle cx="746" cy="1362" r="4"/><circle cx="766" cy="1362" r="4"/><circle cx="748" cy="1376" r="4"/><circle cx="764" cy="1376" r="4"/><circle cx="750" cy="1390" r="4"/><circle cx="762" cy="1392" r="4"/></g>
<g class="T"><circle cx="790" cy="1382" r="4"/><circle cx="810" cy="1380" r="4"/><circle cx="792" cy="1398" r="4"/><circle cx="808" cy="1400" r="4"/><circle cx="792" cy="1418" r="4"/><circle cx="808" cy="1420" r="4"/><circle cx="800" cy="1430" r="4"/></g>
<g class="O"><circle cx="836" cy="1426" r="4"/><circle cx="852" cy="1440" r="4"/><circle cx="834" cy="1458" r="4"/><circle cx="852" cy="1462" r="4"/><circle cx="836" cy="1476" r="4"/><circle cx="850" cy="1482" r="4"/><circle cx="844" cy="1490" r="4"/></g>
<g class="V"><circle cx="880" cy="1492" r="4"/><circle cx="888" cy="1488" r="4"/><circle cx="896" cy="1494" r="4"/><circle cx="884" cy="1497" r="4"/><circle cx="892" cy="1497" r="4"/></g>
<path class="ax" d="M756,1310H844M756,1331H800M844,1412H888"/>
<text x="770" y="1307" class="s"><tspan font-style="italic">P</tspan> &lt; 0.0001</text><text x="750" y="1328" class="s"><tspan font-style="italic">P</tspan> = 0.0154</text><text x="838" y="1409" class="s"><tspan font-style="italic">P</tspan> = 0.0195</text>
<g class="s"><text transform="translate(756,1550) rotate(-55)">Vehicle</text><text transform="translate(800,1540) rotate(-55)">ML323</text><text transform="translate(820,1562) rotate(-55)">CTLA4-Ab</text><text transform="translate(886,1540) rotate(-55)">Comb</text></g>

<!-- ===== z ===== -->
<rect x="1026" y="1330" width="312" height="170" fill="#d6d1d1"/>
<g fill="#e4b4a8"><ellipse cx="1052" cy="1360" rx="22" ry="20"/><ellipse cx="1110" cy="1360" rx="20" ry="18"/><ellipse cx="1165" cy="1360" rx="18" ry="18"/><ellipse cx="1222" cy="1360" rx="20" ry="18"/><ellipse cx="1280" cy="1360" rx="18" ry="18"/>
<ellipse cx="1050" cy="1402" rx="12" ry="14"/><ellipse cx="1108" cy="1402" rx="14" ry="15"/><ellipse cx="1165" cy="1402" rx="14" ry="15"/><ellipse cx="1222" cy="1402" rx="16" ry="16"/><ellipse cx="1280" cy="1402" rx="14" ry="16"/></g>
<g fill="#ecccc0"><ellipse cx="1050" cy="1444" rx="16" ry="17"/><ellipse cx="1108" cy="1444" rx="10" ry="9"/><ellipse cx="1165" cy="1444" rx="9" ry="8"/><ellipse cx="1222" cy="1444" rx="11" ry="9"/><ellipse cx="1284" cy="1444" rx="10" ry="10"/>
<ellipse cx="1050" cy="1480" rx="9" ry="10"/><ellipse cx="1108" cy="1482" rx="7" ry="7"/><ellipse cx="1162" cy="1482" rx="6" ry="6"/><ellipse cx="1222" cy="1482" rx="8" ry="7"/><ellipse cx="1286" cy="1480" rx="8" ry="9"/></g>
<line x1="1280" y1="1494" x2="1308" y2="1494" stroke="#000" stroke-width="3"/>
<text x="966" y="1362">Vehicle</text><text x="968" y="1406">ML323</text><text x="944" y="1449">CTLA4-Ab</text><text x="976" y="1488">Comb</text>
</svg>
</body></html>
